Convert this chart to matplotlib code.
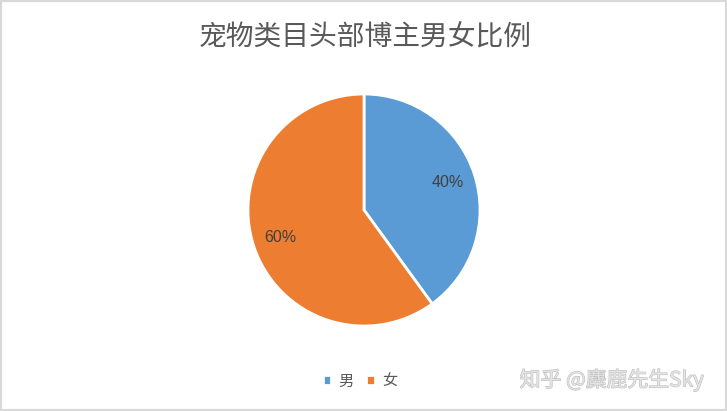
import matplotlib
matplotlib.use('Agg')
import matplotlib.pyplot as plt
from matplotlib.patches import Rectangle
import matplotlib.patheffects as pe

plt.rcParams['font.family'] = ['Noto Sans CJK SC', 'DejaVu Sans']

title = '宠物类目头部博主男女比例'
labels = ['男', '女']
shares = [40, 60]
colors = ['#5B9BD5', '#ED7D31']

W, H = 727, 411
fig = plt.figure(figsize=(W / 100, H / 100), dpi=100)

# pie axes: centre ~ (364, 210), radius ~116 px
cx, cy, r = 364, 210, 116
ax = fig.add_axes([(cx - r) / W, (H - cy - r) / H, 2 * r / W, 2 * r / H])
wedges, _, autotexts = ax.pie(shares, colors=colors, startangle=90, counterclock=False,
                              autopct='%d%%', pctdistance=0.76,
                              wedgeprops=dict(edgecolor='white', linewidth=2),
                              textprops=dict(fontsize=11.5, color='#404040',
                                             family=['Liberation Sans', 'DejaVu Sans']))
ax.set_xlim(-1, 1)
ax.set_ylim(-1, 1)
ax.set_aspect('equal')
ax.axis('off')

fig.text(cx / W + 0.002, 1 - 37 / H, title, ha='center', va='center', fontsize=20,
         color='#595959')

# legend
leg = fig.legend(wedges, labels, loc='center', bbox_to_anchor=(360 / W, 1 - 381 / H),
                 ncol=2, frameon=False, handlelength=0.55, handleheight=0.55,
                 handletextpad=0.5, columnspacing=0.8, fontsize=11)
for t in leg.get_texts():
    t.set_color('#595959')

# watermark
fig.text(612 / W, 1 - 380 / H, '知乎 @麋鹿先生Sky', ha='center', va='center', fontsize=15,
         color='#e4e4e4', path_effects=[pe.withStroke(linewidth=0.8, foreground='#bdbdbd')])

# outer border
fig.patches.append(Rectangle((0, 0), 1, 1, transform=fig.transFigure, fill=False,
                             edgecolor='#d9d9d9', linewidth=3))

fig.savefig('out.png', dpi=100)
